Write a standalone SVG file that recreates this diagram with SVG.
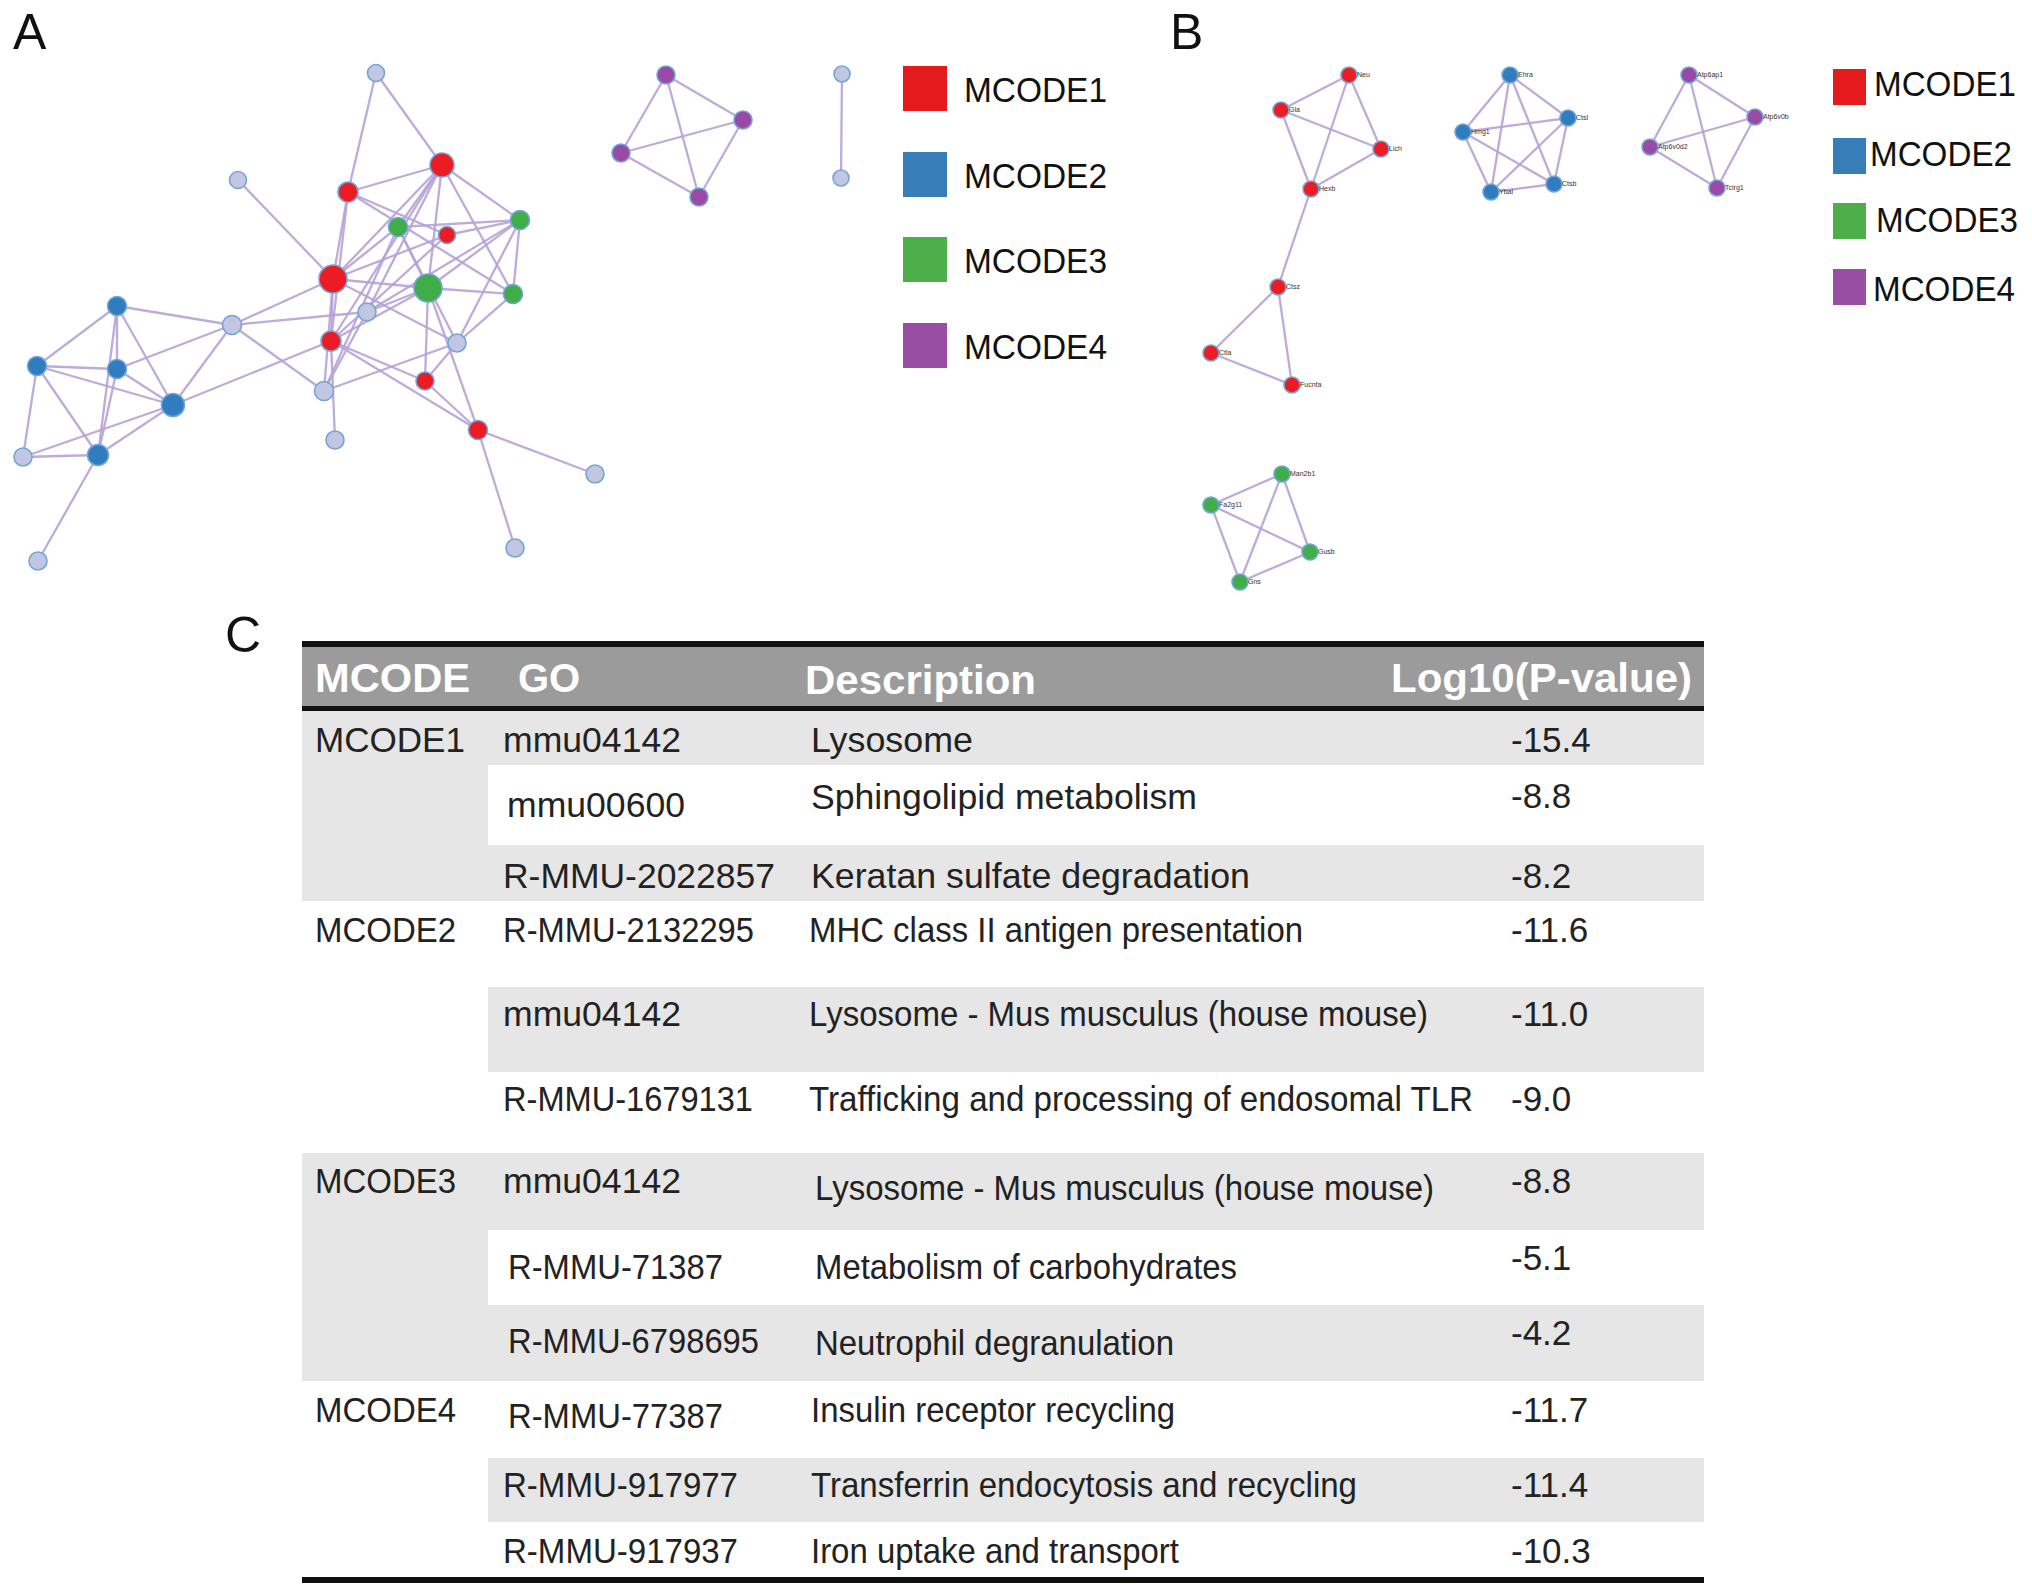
<svg xmlns="http://www.w3.org/2000/svg" width="2032" height="1596" viewBox="0 0 2032 1596">
<style>
text{font-family:"Liberation Sans",Arial,sans-serif;}
.panel{font-size:50px;fill:#111;}
.e{stroke:#b6a2d8;stroke-width:2.3;stroke-opacity:0.9;fill:none;}
.n{stroke:#74a5d6;stroke-width:1.6;}
.L{fill:#c3c6e3;}
.R{fill:#ec1c24;}
.B{fill:#2f7cbf;}
.G{fill:#3fae49;}
.P{fill:#9a4aa6;}
.lg{font-size:35px;fill:#111;}
.gl{font-size:7px;fill:#333;}
.hd{font-size:40px;font-weight:bold;fill:#fff;}
.td{font-size:35px;fill:#222;}
.gray{fill:#e6e6e6;}
</style>

<text class="panel" x="13" y="49">A</text>
<text class="panel" x="1170" y="49">B</text>
<text class="panel" x="225" y="652">C</text>

<!-- Panel A connectors -->
<g id="connectors-A">
<line class="e" x1="376" y1="73" x2="442" y2="165"/>
<line class="e" x1="376" y1="73" x2="348" y2="192"/>
<line class="e" x1="442" y1="165" x2="348" y2="192"/>
<line class="e" x1="442" y1="165" x2="398" y2="227"/>
<line class="e" x1="442" y1="165" x2="333" y2="279"/>
<line class="e" x1="442" y1="165" x2="428" y2="288"/>
<line class="e" x1="442" y1="165" x2="520" y2="220"/>
<line class="e" x1="442" y1="165" x2="513" y2="294"/>
<line class="e" x1="442" y1="165" x2="367" y2="312"/>
<line class="e" x1="442" y1="165" x2="331" y2="341"/>
<line class="e" x1="238" y1="180" x2="333" y2="279"/>
<line class="e" x1="348" y1="192" x2="447" y2="235"/>
<line class="e" x1="348" y1="192" x2="513" y2="294"/>
<line class="e" x1="348" y1="192" x2="331" y2="341"/>
<line class="e" x1="348" y1="192" x2="333" y2="279"/>
<line class="e" x1="398" y1="227" x2="520" y2="220"/>
<line class="e" x1="398" y1="227" x2="428" y2="288"/>
<line class="e" x1="398" y1="227" x2="457" y2="343"/>
<line class="e" x1="398" y1="227" x2="333" y2="279"/>
<line class="e" x1="398" y1="227" x2="324" y2="391"/>
<line class="e" x1="447" y1="235" x2="520" y2="220"/>
<line class="e" x1="447" y1="235" x2="333" y2="279"/>
<line class="e" x1="447" y1="235" x2="331" y2="341"/>
<line class="e" x1="520" y1="220" x2="513" y2="294"/>
<line class="e" x1="520" y1="220" x2="428" y2="288"/>
<line class="e" x1="520" y1="220" x2="367" y2="312"/>
<line class="e" x1="520" y1="220" x2="457" y2="343"/>
<line class="e" x1="333" y1="279" x2="428" y2="288"/>
<line class="e" x1="333" y1="279" x2="232" y2="325"/>
<line class="e" x1="333" y1="279" x2="331" y2="341"/>
<line class="e" x1="333" y1="279" x2="324" y2="391"/>
<line class="e" x1="333" y1="279" x2="457" y2="343"/>
<line class="e" x1="428" y1="288" x2="513" y2="294"/>
<line class="e" x1="428" y1="288" x2="367" y2="312"/>
<line class="e" x1="428" y1="288" x2="425" y2="381"/>
<line class="e" x1="428" y1="288" x2="478" y2="430"/>
<line class="e" x1="428" y1="288" x2="331" y2="341"/>
<line class="e" x1="513" y1="294" x2="457" y2="343"/>
<line class="e" x1="367" y1="312" x2="232" y2="325"/>
<line class="e" x1="367" y1="312" x2="324" y2="391"/>
<line class="e" x1="117" y1="306" x2="232" y2="325"/>
<line class="e" x1="117" y1="306" x2="37" y2="366"/>
<line class="e" x1="117" y1="306" x2="117" y2="369"/>
<line class="e" x1="117" y1="306" x2="173" y2="405"/>
<line class="e" x1="117" y1="306" x2="98" y2="455"/>
<line class="e" x1="232" y1="325" x2="117" y2="369"/>
<line class="e" x1="232" y1="325" x2="324" y2="391"/>
<line class="e" x1="232" y1="325" x2="173" y2="405"/>
<line class="e" x1="331" y1="341" x2="425" y2="381"/>
<line class="e" x1="331" y1="341" x2="478" y2="430"/>
<line class="e" x1="331" y1="341" x2="173" y2="405"/>
<line class="e" x1="331" y1="341" x2="335" y2="440"/>
<line class="e" x1="457" y1="343" x2="324" y2="391"/>
<line class="e" x1="457" y1="343" x2="425" y2="381"/>
<line class="e" x1="37" y1="366" x2="117" y2="369"/>
<line class="e" x1="37" y1="366" x2="173" y2="405"/>
<line class="e" x1="37" y1="366" x2="23" y2="457"/>
<line class="e" x1="37" y1="366" x2="98" y2="455"/>
<line class="e" x1="117" y1="369" x2="173" y2="405"/>
<line class="e" x1="117" y1="369" x2="98" y2="455"/>
<line class="e" x1="425" y1="381" x2="478" y2="430"/>
<line class="e" x1="173" y1="405" x2="23" y2="457"/>
<line class="e" x1="173" y1="405" x2="98" y2="455"/>
<line class="e" x1="478" y1="430" x2="595" y2="474"/>
<line class="e" x1="478" y1="430" x2="515" y2="548"/>
<line class="e" x1="23" y1="457" x2="98" y2="455"/>
<line class="e" x1="98" y1="455" x2="38" y2="561"/>
<line class="e" x1="666" y1="75" x2="743" y2="120"/>
<line class="e" x1="666" y1="75" x2="621" y2="153"/>
<line class="e" x1="666" y1="75" x2="699" y2="197"/>
<line class="e" x1="743" y1="120" x2="621" y2="153"/>
<line class="e" x1="743" y1="120" x2="699" y2="197"/>
<line class="e" x1="621" y1="153" x2="699" y2="197"/>
<line class="e" x1="842" y1="74" x2="841" y2="178"/>
</g>

<!-- Panel A nodes -->
<g id="nodes-A">
<circle id="a1" class="n L" cx="376" cy="73" r="8.5"/>
<circle id="a2" class="n R" cx="442" cy="165" r="12"/>
<circle id="a3" class="n L" cx="238" cy="180" r="8.5"/>
<circle id="a4" class="n R" cx="348" cy="192" r="10"/>
<circle id="a5" class="n G" cx="398" cy="227" r="9.5"/>
<circle id="a6" class="n R" cx="447" cy="235" r="8.5"/>
<circle id="a7" class="n G" cx="520" cy="220" r="9.5"/>
<circle id="a8" class="n R" cx="333" cy="279" r="14"/>
<circle id="a9" class="n G" cx="428" cy="288" r="14"/>
<circle id="a10" class="n G" cx="513" cy="294" r="9.5"/>
<circle id="a11" class="n L" cx="367" cy="312" r="9"/>
<circle id="a12" class="n B" cx="117" cy="306" r="9.5"/>
<circle id="a13" class="n L" cx="232" cy="325" r="9.5"/>
<circle id="a14" class="n R" cx="331" cy="341" r="10"/>
<circle id="a15" class="n L" cx="457" cy="343" r="9"/>
<circle id="a16" class="n B" cx="37" cy="366" r="9.5"/>
<circle id="a17" class="n B" cx="117" cy="369" r="9.5"/>
<circle id="a18" class="n R" cx="425" cy="381" r="9"/>
<circle id="a19" class="n L" cx="324" cy="391" r="9.5"/>
<circle id="a20" class="n B" cx="173" cy="405" r="11.5"/>
<circle id="a21" class="n L" cx="335" cy="440" r="9"/>
<circle id="a22" class="n R" cx="478" cy="430" r="9.5"/>
<circle id="a23" class="n L" cx="23" cy="457" r="9"/>
<circle id="a24" class="n B" cx="98" cy="455" r="10.5"/>
<circle id="a25" class="n L" cx="595" cy="474" r="9"/>
<circle id="a26" class="n L" cx="515" cy="548" r="9"/>
<circle id="a27" class="n L" cx="38" cy="561" r="9"/>
<circle id="a28" class="n P" cx="666" cy="75" r="9"/>
<circle id="a29" class="n P" cx="743" cy="120" r="9"/>
<circle id="a30" class="n P" cx="621" cy="153" r="9"/>
<circle id="a31" class="n P" cx="699" cy="197" r="9"/>
<circle id="a32" class="n L" cx="842" cy="74" r="8"/>
<circle id="a33" class="n L" cx="841" cy="178" r="8"/>
</g>

<!-- Legend A -->
<g id="legend-A">
<rect x="903" y="66" width="44" height="45" fill="#e41a1c"/>
<rect x="903" y="152" width="44" height="45" fill="#377eb8"/>
<rect x="903" y="237" width="44" height="45" fill="#4daf4a"/>
<rect x="903" y="323" width="44" height="45" fill="#984ea3"/>
<text class="lg" x="964" y="102" textLength="143" lengthAdjust="spacingAndGlyphs">MCODE1</text>
<text class="lg" x="964" y="188" textLength="143" lengthAdjust="spacingAndGlyphs">MCODE2</text>
<text class="lg" x="964" y="273" textLength="143" lengthAdjust="spacingAndGlyphs">MCODE3</text>
<text class="lg" x="964" y="359" textLength="143" lengthAdjust="spacingAndGlyphs">MCODE4</text>
</g>

<!-- Panel B connectors -->
<g id="connectors-B">
<line class="e" x1="1349" y1="75" x2="1281" y2="110"/>
<line class="e" x1="1349" y1="75" x2="1381" y2="149"/>
<line class="e" x1="1349" y1="75" x2="1311" y2="189"/>
<line class="e" x1="1281" y1="110" x2="1381" y2="149"/>
<line class="e" x1="1281" y1="110" x2="1311" y2="189"/>
<line class="e" x1="1381" y1="149" x2="1311" y2="189"/>
<line class="e" x1="1311" y1="189" x2="1278" y2="287"/>
<line class="e" x1="1278" y1="287" x2="1211" y2="353"/>
<line class="e" x1="1278" y1="287" x2="1292" y2="385"/>
<line class="e" x1="1211" y1="353" x2="1292" y2="385"/>
<line class="e" x1="1510" y1="75" x2="1568" y2="118"/>
<line class="e" x1="1510" y1="75" x2="1463" y2="132"/>
<line class="e" x1="1510" y1="75" x2="1554" y2="184"/>
<line class="e" x1="1510" y1="75" x2="1491" y2="192"/>
<line class="e" x1="1568" y1="118" x2="1463" y2="132"/>
<line class="e" x1="1568" y1="118" x2="1554" y2="184"/>
<line class="e" x1="1568" y1="118" x2="1491" y2="192"/>
<line class="e" x1="1463" y1="132" x2="1554" y2="184"/>
<line class="e" x1="1463" y1="132" x2="1491" y2="192"/>
<line class="e" x1="1554" y1="184" x2="1491" y2="192"/>
<line class="e" x1="1689" y1="75" x2="1755" y2="117"/>
<line class="e" x1="1689" y1="75" x2="1650" y2="147"/>
<line class="e" x1="1689" y1="75" x2="1717" y2="188"/>
<line class="e" x1="1755" y1="117" x2="1650" y2="147"/>
<line class="e" x1="1755" y1="117" x2="1717" y2="188"/>
<line class="e" x1="1650" y1="147" x2="1717" y2="188"/>
<line class="e" x1="1282" y1="474" x2="1211" y2="505"/>
<line class="e" x1="1282" y1="474" x2="1310" y2="552"/>
<line class="e" x1="1282" y1="474" x2="1240" y2="582"/>
<line class="e" x1="1211" y1="505" x2="1310" y2="552"/>
<line class="e" x1="1211" y1="505" x2="1240" y2="582"/>
<line class="e" x1="1310" y1="552" x2="1240" y2="582"/>
</g>

<!-- Panel B nodes -->
<g id="nodes-B">
<g id="b-neu"><circle class="n R" cx="1349" cy="75" r="8"/><text class="gl" x="1357" y="77">Neu</text></g>
<g id="b-gla"><circle class="n R" cx="1281" cy="110" r="8"/><text class="gl" x="1289" y="112">Gla</text></g>
<g id="b-lich"><circle class="n R" cx="1381" cy="149" r="8"/><text class="gl" x="1389" y="151">Lich</text></g>
<g id="b-hexb"><circle class="n R" cx="1311" cy="189" r="8"/><text class="gl" x="1319" y="191">Hexb</text></g>
<g id="b-ctsz"><circle class="n R" cx="1278" cy="287" r="8"/><text class="gl" x="1286" y="289">Ctsz</text></g>
<g id="b-ctla"><circle class="n R" cx="1211" cy="353" r="8"/><text class="gl" x="1219" y="355">Ctla</text></g>
<g id="b-fucnfa"><circle class="n R" cx="1292" cy="385" r="8"/><text class="gl" x="1300" y="387">Fucnfa</text></g>
<g id="b-ehra"><circle class="n B" cx="1510" cy="75" r="8"/><text class="gl" x="1518" y="77">Ehra</text></g>
<g id="b-ctsl"><circle class="n B" cx="1568" cy="118" r="8"/><text class="gl" x="1576" y="120">Ctsl</text></g>
<g id="b-hmg1"><circle class="n B" cx="1463" cy="132" r="8"/><text class="gl" x="1471" y="134">Hmg1</text></g>
<g id="b-ctsb"><circle class="n B" cx="1554" cy="184" r="8"/><text class="gl" x="1562" y="186">Ctsb</text></g>
<g id="b-ybal"><circle class="n B" cx="1491" cy="192" r="8"/><text class="gl" x="1499" y="194">Ybal</text></g>
<g id="b-atp6ap1"><circle class="n P" cx="1689" cy="75" r="8"/><text class="gl" x="1697" y="77">Atp6ap1</text></g>
<g id="b-atp6v0b"><circle class="n P" cx="1755" cy="117" r="8"/><text class="gl" x="1763" y="119">Atp6v0b</text></g>
<g id="b-atp6v0d2"><circle class="n P" cx="1650" cy="147" r="8"/><text class="gl" x="1658" y="149">Atp6v0d2</text></g>
<g id="b-tcirg1"><circle class="n P" cx="1717" cy="188" r="8"/><text class="gl" x="1725" y="190">Tcirg1</text></g>
<g id="b-man2b1"><circle class="n G" cx="1282" cy="474" r="8"/><text class="gl" x="1290" y="476">Man2b1</text></g>
<g id="b-fa2g11"><circle class="n G" cx="1211" cy="505" r="8"/><text class="gl" x="1219" y="507">Fa2g11</text></g>
<g id="b-gusb"><circle class="n G" cx="1310" cy="552" r="8"/><text class="gl" x="1318" y="554">Gusb</text></g>
<g id="b-gns"><circle class="n G" cx="1240" cy="582" r="8"/><text class="gl" x="1248" y="584">Gns</text></g>
</g>

<!-- Legend B -->
<g id="legend-B">
<rect x="1833" y="69" width="33" height="36" fill="#e41a1c"/>
<rect x="1833" y="138" width="33" height="36" fill="#377eb8"/>
<rect x="1833" y="203" width="33" height="36" fill="#4daf4a"/>
<rect x="1833" y="269" width="33" height="36" fill="#984ea3"/>
<text class="lg" x="1874" y="96" textLength="142" lengthAdjust="spacingAndGlyphs">MCODE1</text>
<text class="lg" x="1870" y="166" textLength="142" lengthAdjust="spacingAndGlyphs">MCODE2</text>
<text class="lg" x="1876" y="232" textLength="142" lengthAdjust="spacingAndGlyphs">MCODE3</text>
<text class="lg" x="1873" y="301" textLength="142" lengthAdjust="spacingAndGlyphs">MCODE4</text>
</g>

<!-- Panel C table -->
<g id="table">
<rect x="302" y="647" width="1402" height="59" fill="#9b9b9b"/>
<rect class="gray" x="302" y="711" width="1402" height="54"/>
<rect class="gray" x="302" y="765" width="186" height="136"/>
<rect class="gray" x="488" y="845" width="1216" height="56"/>
<rect class="gray" x="488" y="987" width="1216" height="85"/>
<rect class="gray" x="302" y="1153" width="1402" height="77"/>
<rect class="gray" x="302" y="1230" width="186" height="151"/>
<rect class="gray" x="488" y="1305" width="1216" height="76"/>
<rect class="gray" x="488" y="1458" width="1216" height="64"/>
<rect x="302" y="641" width="1402" height="6" fill="#111"/>
<rect x="302" y="706" width="1402" height="5" fill="#111"/>
<rect x="302" y="1577" width="1402" height="6" fill="#111"/>

<text class="hd" x="315" y="692" textLength="155" lengthAdjust="spacingAndGlyphs">MCODE</text>
<text class="hd" x="518" y="692">GO</text>
<text class="hd" x="805" y="694" textLength="231" lengthAdjust="spacingAndGlyphs">Description</text>
<text class="hd" x="1391" y="692" textLength="301" lengthAdjust="spacingAndGlyphs">Log10(P-value)</text>

<text class="td" x="315" y="752" textLength="150" lengthAdjust="spacingAndGlyphs">MCODE1</text>
<text class="td" x="503" y="752" textLength="178" lengthAdjust="spacingAndGlyphs">mmu04142</text>
<text class="td" x="811" y="752" textLength="162" lengthAdjust="spacingAndGlyphs">Lysosome</text>
<text class="td" x="1511" y="752">-15.4</text>
<text class="td" x="507" y="817" textLength="178" lengthAdjust="spacingAndGlyphs">mmu00600</text>
<text class="td" x="811" y="809" textLength="386" lengthAdjust="spacingAndGlyphs">Sphingolipid metabolism</text>
<text class="td" x="1511" y="808">-8.8</text>
<text class="td" x="503" y="888" textLength="272" lengthAdjust="spacingAndGlyphs">R-MMU-2022857</text>
<text class="td" x="811" y="888" textLength="439" lengthAdjust="spacingAndGlyphs">Keratan sulfate degradation</text>
<text class="td" x="1511" y="888">-8.2</text>

<text class="td" x="315" y="942" textLength="141" lengthAdjust="spacingAndGlyphs">MCODE2</text>
<text class="td" x="503" y="942" textLength="251" lengthAdjust="spacingAndGlyphs">R-MMU-2132295</text>
<text class="td" x="809" y="942" textLength="494" lengthAdjust="spacingAndGlyphs">MHC class II antigen presentation</text>
<text class="td" x="1511" y="942">-11.6</text>
<text class="td" x="503" y="1026" textLength="178" lengthAdjust="spacingAndGlyphs">mmu04142</text>
<text class="td" x="809" y="1026" textLength="619" lengthAdjust="spacingAndGlyphs">Lysosome - Mus musculus (house mouse)</text>
<text class="td" x="1511" y="1026">-11.0</text>
<text class="td" x="503" y="1111" textLength="250" lengthAdjust="spacingAndGlyphs">R-MMU-1679131</text>
<text class="td" x="809" y="1111" textLength="664" lengthAdjust="spacingAndGlyphs">Trafficking and processing of endosomal TLR</text>
<text class="td" x="1511" y="1111">-9.0</text>

<text class="td" x="315" y="1193" textLength="141" lengthAdjust="spacingAndGlyphs">MCODE3</text>
<text class="td" x="503" y="1193" textLength="178" lengthAdjust="spacingAndGlyphs">mmu04142</text>
<text class="td" x="815" y="1200" textLength="619" lengthAdjust="spacingAndGlyphs">Lysosome - Mus musculus (house mouse)</text>
<text class="td" x="1511" y="1193">-8.8</text>
<text class="td" x="508" y="1279" textLength="215" lengthAdjust="spacingAndGlyphs">R-MMU-71387</text>
<text class="td" x="815" y="1279" textLength="422" lengthAdjust="spacingAndGlyphs">Metabolism of carbohydrates</text>
<text class="td" x="1511" y="1270">-5.1</text>
<text class="td" x="508" y="1353" textLength="251" lengthAdjust="spacingAndGlyphs">R-MMU-6798695</text>
<text class="td" x="815" y="1355" textLength="359" lengthAdjust="spacingAndGlyphs">Neutrophil degranulation</text>
<text class="td" x="1511" y="1345">-4.2</text>

<text class="td" x="315" y="1422" textLength="141" lengthAdjust="spacingAndGlyphs">MCODE4</text>
<text class="td" x="508" y="1428" textLength="215" lengthAdjust="spacingAndGlyphs">R-MMU-77387</text>
<text class="td" x="811" y="1422" textLength="364" lengthAdjust="spacingAndGlyphs">Insulin receptor recycling</text>
<text class="td" x="1511" y="1422">-11.7</text>
<text class="td" x="503" y="1497" textLength="235" lengthAdjust="spacingAndGlyphs">R-MMU-917977</text>
<text class="td" x="811" y="1497" textLength="546" lengthAdjust="spacingAndGlyphs">Transferrin endocytosis and recycling</text>
<text class="td" x="1511" y="1497">-11.4</text>
<text class="td" x="503" y="1563" textLength="235" lengthAdjust="spacingAndGlyphs">R-MMU-917937</text>
<text class="td" x="811" y="1563" textLength="368" lengthAdjust="spacingAndGlyphs">Iron uptake and transport</text>
<text class="td" x="1511" y="1563">-10.3</text>
</g>
</svg>
